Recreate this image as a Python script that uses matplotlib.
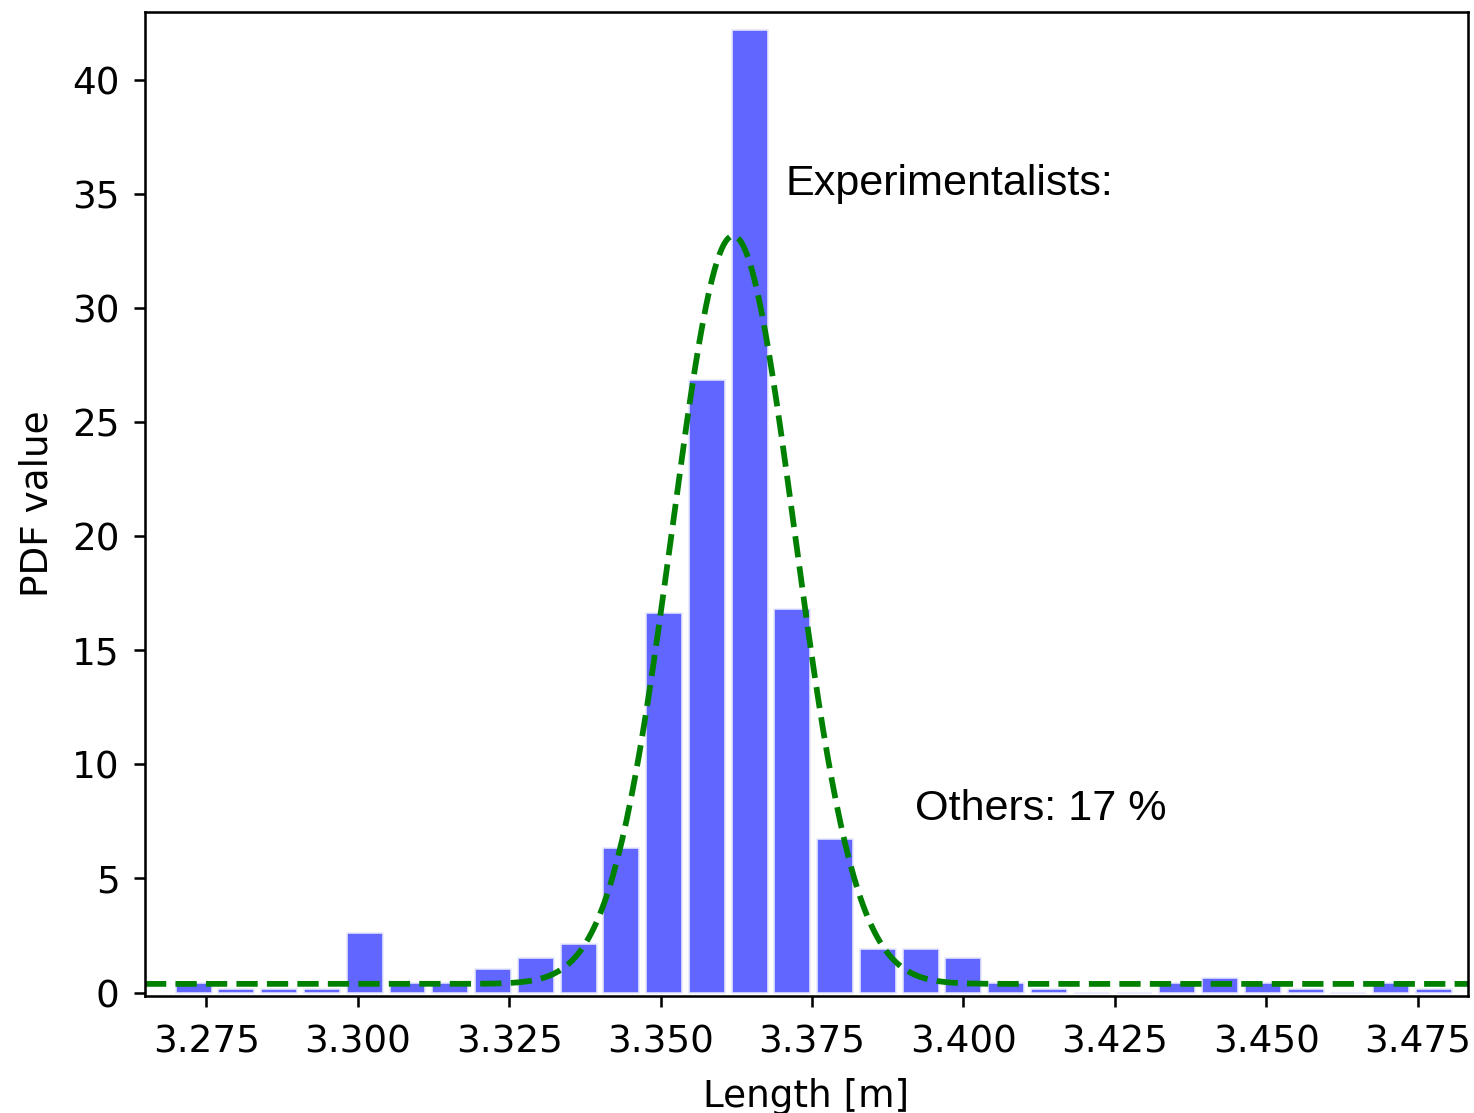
import numpy as np
import matplotlib
matplotlib.use('Agg')
import matplotlib.pyplot as plt

# histogram (density values per bin)
bin_start = 3.2694
bin_width = 0.00706
pdf_values = [0.40, 0.15, 0.15, 0.15, 2.60, 0.40, 0.40, 1.02, 1.50, 2.15,
              6.35, 16.64, 26.85, 42.18, 16.82, 6.75, 1.90, 1.90, 1.50, 0.40,
              0.15, 0.00, 0.00, 0.40, 0.62, 0.40, 0.15, 0.00, 0.40, 0.15]

# fitted model: gaussian + flat "others" background
mu = 3.362
sigma = 0.0101
w_main = 0.83
baseline = 0.38

xlim = (3.2649, 3.4833)
ylim = (-0.15, 42.97)

fig = plt.figure(figsize=(1474/230, 1113/230), dpi=230)
ax = fig.add_axes([145/1474, 1 - 996/1113, (1468 - 145)/1474, (996 - 12)/1113])

edges = bin_start + bin_width*np.arange(len(pdf_values) + 1)
centers = (edges[:-1] + edges[1:])/2
ax.bar(centers, pdf_values, width=bin_width*0.84, color='#6066ff',
       edgecolor='#e8e8ff', linewidth=0.5)

xx = np.linspace(xlim[0], xlim[1], 600)
yy = w_main/(sigma*np.sqrt(2*np.pi))*np.exp(-(xx - mu)**2/(2*sigma**2)) + baseline
ax.plot(xx, yy, '--', color='green', lw=1.8)

ax.text(3.3706, 35.45, 'Experimentalists:', fontsize=13.5, va='center',
        family=['Liberation Sans', 'DejaVu Sans'])
ax.text(3.392, 8.05, 'Others: 17 %', fontsize=13.5, va='center',
        family=['Liberation Sans', 'DejaVu Sans'])

ax.set_xlim(*xlim)
ax.set_ylim(*ylim)
ax.set_xticks([3.275, 3.300, 3.325, 3.350, 3.375, 3.400, 3.425, 3.450, 3.475])
ax.set_xticklabels(['3.275', '3.300', '3.325', '3.350', '3.375', '3.400',
                    '3.425', '3.450', '3.475'])
ax.set_yticks([0, 5, 10, 15, 20, 25, 30, 35, 40])
ax.tick_params(labelsize=11.7, pad=4.5)
ax.tick_params(axis='x', pad=5)
ax.set_xlabel('Length [m]', fontsize=11.7, labelpad=5.5)
ax.set_ylabel('PDF value', fontsize=11.7, labelpad=5)

fig.savefig('out.png', dpi=230)
